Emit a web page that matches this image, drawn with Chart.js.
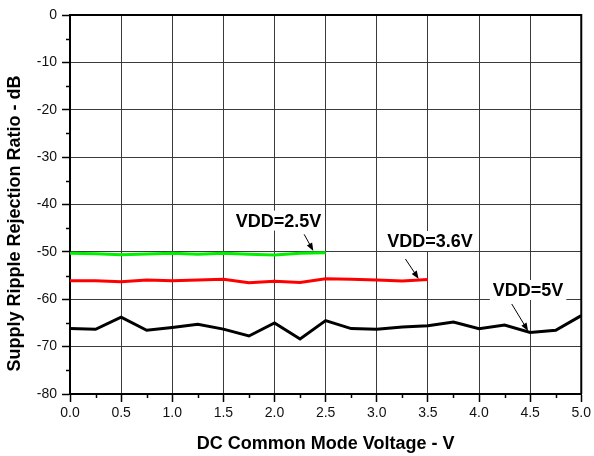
<!DOCTYPE html>
<html>
<head>
<meta charset="utf-8">
<script src="https://cdn.jsdelivr.net/npm/chart.js@4.4.1/dist/chart.umd.min.js"></script>
<style>
    html, body { margin: 0; padding: 0; background: #fff; }
</style>
</head>
<body>
<canvas id="chart" width="594" height="456"></canvas>
<script>
// common mode voltage steps (V)
const voltages = [0, 0.25, 0.5, 0.75, 1, 1.25, 1.5, 1.75, 2, 2.25, 2.5,
    2.75, 3, 3.25, 3.5, 3.75, 4, 4.25, 4.5, 4.75, 5]

// PSRR readings in dB, one per voltage step
const vdd25 = [-50.3, -50.4, -50.6, -50.45, -50.3, -50.5, -50.3, -50.5, -50.65, -50.3, -50.2]
const vdd36 = [-56.1, -56.1, -56.3, -55.95, -56.1, -55.95, -55.8, -56.5, -56.2, -56.45, -55.65,
    -55.8, -55.95, -56.15, -55.85]
const vdd5 = [-66.15, -66.35, -63.8, -66.55, -65.95, -65.3, -66.3, -67.75, -65.0, -68.4, -64.5,
    -66.2, -66.35, -65.85, -65.6, -64.8, -66.2, -65.45, -67.0, -66.55, -63.45]

const xTickValues = [0, 0.5, 1, 1.5, 2, 2.5, 3, 3.5, 4, 4.5, 5]
const yTickValues = [-80, -70, -60, -50, -40, -30, -20, -10, 0]

const seriesNames = ["VDD=5V", "VDD=3.6V", "VDD=2.5V"]
const seriesColors = ["#000000", "#ff0000", "#00f000"]

const FONT = 'Arial, "Liberation Sans", sans-serif'

// callouts with an arrow pointing at each curve (data units)
const callouts = [
    { text: "VDD=2.5V", x: 2.04, y: -43.4, from: [2.29, -46.3], to: [2.38, -49.8] },
    { text: "VDD=3.6V", x: 3.52, y: -47.7, from: [3.28, -51.5], to: [3.41, -55.7] },
    { text: "VDD=5V", x: 4.48, y: -58.05, from: [4.32, -61.0], to: [4.48, -66.7] }
]

function toPoints(values) {
    return values.map((v, i) => ({ x: voltages[i], y: v }))
}

const frameAndExtras = {
    id: "frameAndExtras",
    afterDatasetsDraw(chart) {
        const { ctx, chartArea: a, scales: { x, y } } = chart
        ctx.save()

        // top and right edges of the box
        ctx.strokeStyle = "#000"
        ctx.lineWidth = 2
        ctx.beginPath()
        ctx.moveTo(a.left, a.top)
        ctx.lineTo(a.right, a.top)
        ctx.lineTo(a.right, a.bottom)
        ctx.stroke()

        // minor ticks halfway between major ones
        ctx.lineWidth = 1.5
        ctx.beginPath()
        for (let i = 0; i < x.ticks.length - 1; i++) {
            const px = Math.round(x.getPixelForValue((x.ticks[i].value + x.ticks[i + 1].value) / 2)) + 0.5
            ctx.moveTo(px, a.bottom)
            ctx.lineTo(px, a.bottom + 4)
        }
        for (let i = 0; i < y.ticks.length - 1; i++) {
            const py = Math.round(y.getPixelForValue((y.ticks[i].value + y.ticks[i + 1].value) / 2)) + 0.5
            ctx.moveTo(a.left, py)
            ctx.lineTo(a.left - 4, py)
        }
        ctx.stroke()

        // callouts
        ctx.font = "bold 18px " + FONT
        ctx.textAlign = "center"
        ctx.textBaseline = "middle"
        callouts.forEach(c => {
            const tx = x.getPixelForValue(c.x)
            const ty = y.getPixelForValue(c.y)
            const w = ctx.measureText(c.text).width
            ctx.fillStyle = "#fff"
            ctx.fillRect(tx - w / 2 - 3, ty - 10, w + 6, 20)
            ctx.fillStyle = "#000"
            ctx.fillText(c.text, tx, ty + 1)

            const x1 = x.getPixelForValue(c.from[0]), y1 = y.getPixelForValue(c.from[1])
            const x2 = x.getPixelForValue(c.to[0]), y2 = y.getPixelForValue(c.to[1])
            const ang = Math.atan2(y2 - y1, x2 - x1)
            ctx.strokeStyle = "#000"
            ctx.lineWidth = 1
            ctx.beginPath()
            ctx.moveTo(x1, y1)
            ctx.lineTo(x2 - 5 * Math.cos(ang), y2 - 5 * Math.sin(ang))
            ctx.stroke()
            ctx.beginPath()
            ctx.moveTo(x2, y2)
            ctx.lineTo(x2 - 8 * Math.cos(ang) + 3 * Math.sin(ang), y2 - 8 * Math.sin(ang) - 3 * Math.cos(ang))
            ctx.lineTo(x2 - 8 * Math.cos(ang) - 3 * Math.sin(ang), y2 - 8 * Math.sin(ang) + 3 * Math.cos(ang))
            ctx.closePath()
            ctx.fill()
        })

        // y axis title, drawn by hand so it can sit a bit low like the original
        ctx.translate(15, (a.top + a.bottom) / 2 + 19)
        ctx.rotate(-Math.PI / 2)
        ctx.font = "bold 18px " + FONT
        ctx.fillStyle = "#000"
        ctx.fillText("Supply Ripple Rejection Ratio - dB", 0, 0)

        ctx.restore()
    }
}

Chart.defaults.font.family = FONT
Chart.defaults.color = "#111"

new Chart(document.getElementById("chart"), {
    type: "line",
    data: {
        datasets: [vdd5, vdd36, vdd25].map((vals, i) => ({
            label: seriesNames[i],
            data: toPoints(vals),
            borderColor: seriesColors[i],
            borderWidth: 3,
            pointRadius: 0,
            tension: 0,
            fill: false
        }))
    },
    options: {
        responsive: false,
        animation: false,
        devicePixelRatio: 1,
        layout: { padding: { top: 15, right: 12, left: 0, bottom: 0 } },
        plugins: {
            legend: { display: false },
            tooltip: { enabled: false }
        },
        scales: {
            x: {
                type: "linear",
                min: 0,
                max: 5,
                afterBuildTicks: s => { s.ticks = xTickValues.map(v => ({ value: v })) },
                afterFit: s => { s.height = 62 },
                ticks: {
                    font: { size: 14 },
                    padding: 3,
                    maxRotation: 0,
                    autoSkip: false,
                    callback: v => v.toFixed(1)
                },
                grid: { color: "#3a3a3a", lineWidth: 1, tickLength: 8, tickColor: "#000", tickWidth: 1.5 },
                border: { color: "#000", width: 2 },
                title: {
                    display: true,
                    text: "DC Common Mode Voltage - V",
                    font: { size: 18, weight: "bold" },
                    color: "#000",
                    padding: { top: 0, bottom: 1 }
                }
            },
            y: {
                min: -80,
                max: 0,
                afterBuildTicks: s => { s.ticks = yTickValues.map(v => ({ value: v })) },
                afterFit: s => { s.width = 70 },
                ticks: { font: { size: 14 }, padding: 5, autoSkip: false },
                grid: { color: "#3a3a3a", lineWidth: 1, tickLength: 8, tickColor: "#000", tickWidth: 1.5 },
                border: { color: "#000", width: 2 }
            }
        }
    },
    plugins: [frameAndExtras]
})
</script>
</body>
</html>
